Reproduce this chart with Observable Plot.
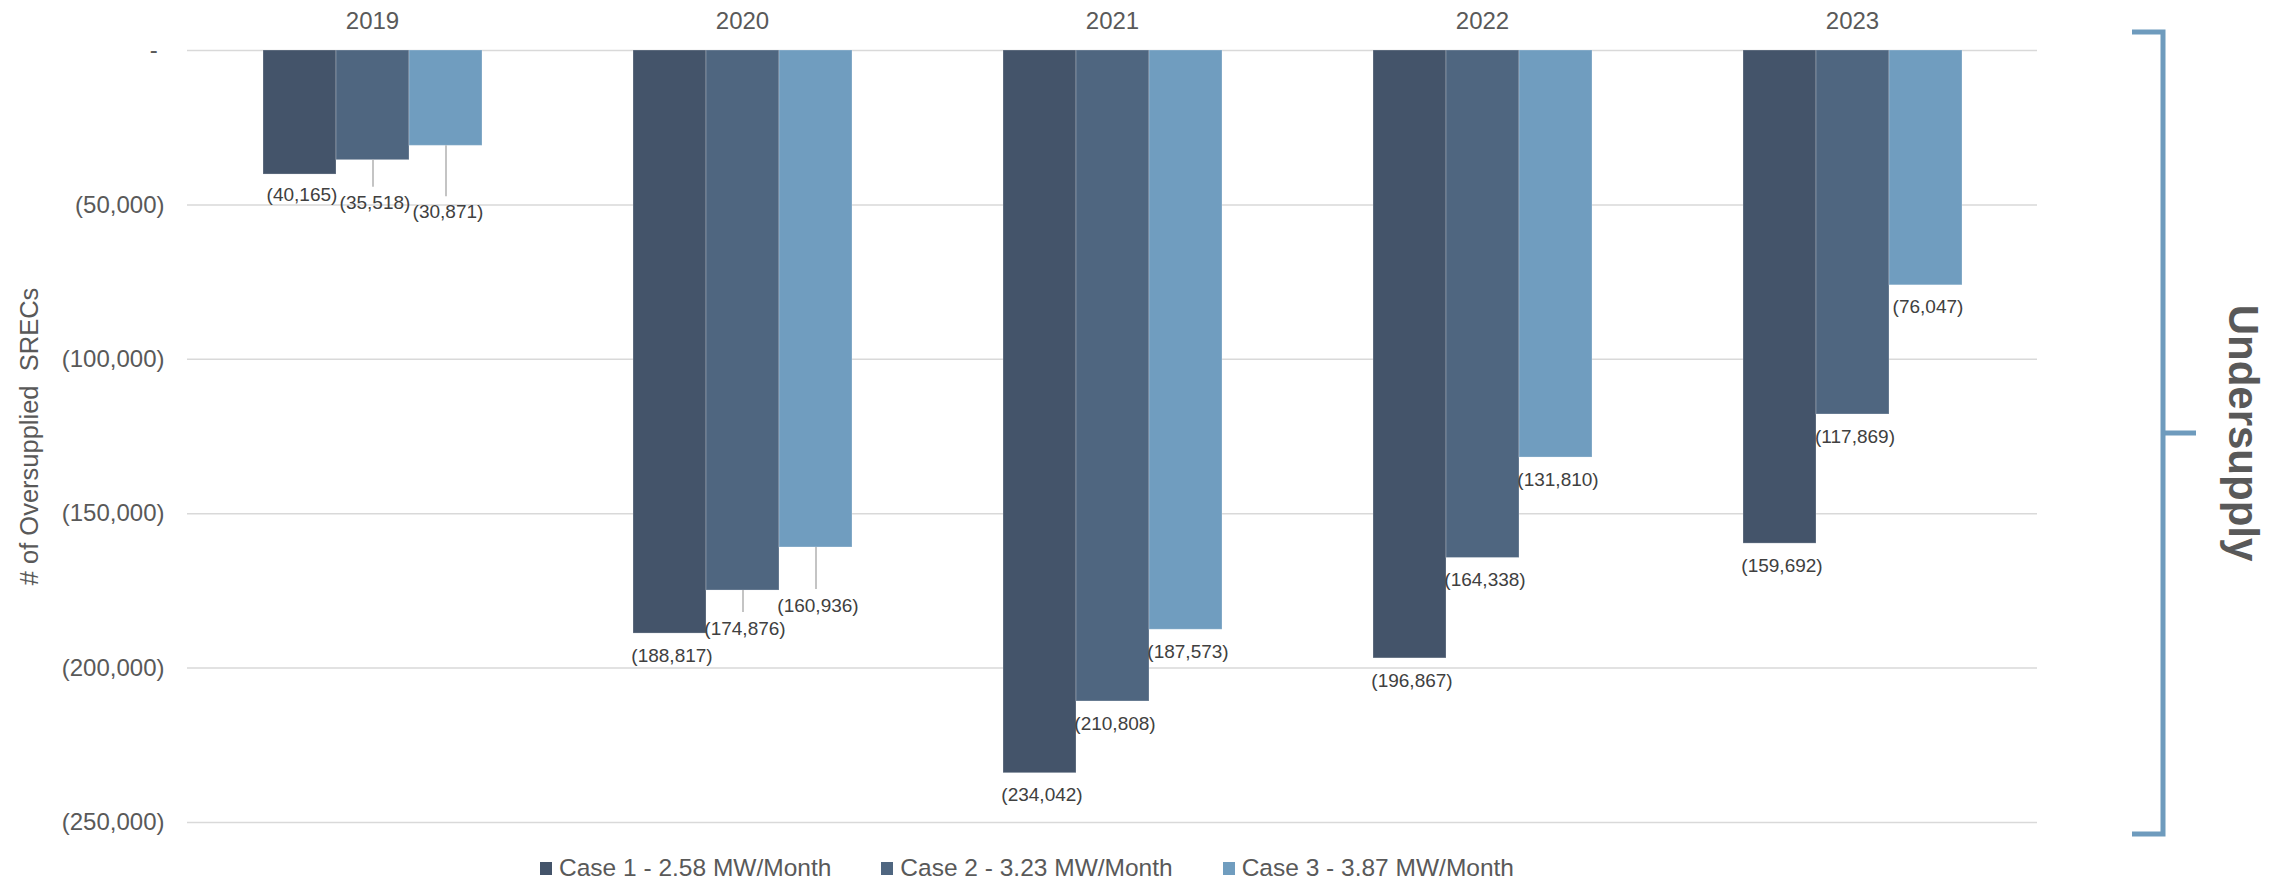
<!DOCTYPE html>
<html><head><meta charset="utf-8">
<script src="https://cdn.jsdelivr.net/npm/d3@7"></script>
<script src="https://cdn.jsdelivr.net/npm/@observablehq/plot@0.6"></script>
<style>
html,body{margin:0;padding:0;background:#fff;}
#chart svg{display:block;}
.legend{display:flex;align-items:center;height:34px;padding-top:6px;padding-left:540px;font:24.5px "Liberation Sans",Arial,sans-serif;color:#595959;}
.legend .item{display:flex;align-items:center;margin-right:50px;}
.legend .sw{width:12px;height:13px;margin-right:7px;}
</style></head><body><div id="chart"></div><div class="legend" id="legend"></div><script>
// ---- data ----
const years = ["2019", "2020", "2021", "2022", "2023"];
const cases = ["Case 1 - 2.58 MW/Month", "Case 2 - 3.23 MW/Month", "Case 3 - 3.87 MW/Month"];
const case1 = [-40165, -188817, -234042, -196867, -159692];
const case2 = [-35518, -174876, -210808, -164338, -117869];
const case3 = [-30871, -160936, -187573, -131810, -76047];
const yTicks = [0, -50000, -100000, -150000, -200000, -250000];
const yTitle = "# of Oversupplied\u00a0 SRECs";
const sideNote = "Undersupply";

// ---- style / layout ----
const colors = ["#44546A", "#4F6680", "#709DBF"];
const FONT = '"Liberation Sans", Arial, sans-serif';
const W = 2290, H = 845, MT = 50, MB = 23, ML = 187, MR = 253;
const defaultDrop = [22, 22, 22];
const labelDrop = {"2019": [20, 43, 66], "2020": [22, 38, 58]};   // px below bar end (label centre)
const leaderLen = {"2019": [0, 27, 51], "2020": [0, 22, 42]};     // px leader line length

const unitsPerPx = 250000 / (H - MT - MB);
const series = [case1, case2, case3];
const rows = [];
years.forEach((yr, i) => {
  series.forEach((s, j) => {
    const drop = (labelDrop[yr] || defaultDrop)[j];
    const lead = (leaderLen[yr] || [0, 0, 0])[j];
    rows.push({year: yr, kase: cases[j], value: s[i],
      labelY: s[i] - drop * unitsPerPx, leadEnd: s[i] - lead * unitsPerPx, hasLead: lead > 0});
  });
});
const num = d3.format(",");
const fmtTick = d => d === 0 ? "-\u00a0" : "(" + num(-d) + ")";
const fmtLabel = d => "(" + num(-d) + ")";

const chart = Plot.plot({
  width: W, height: H, marginTop: MT, marginBottom: MB, marginLeft: ML, marginRight: MR,
  style: {fontFamily: FONT, fontSize: "24px", color: "#595959", background: "white", overflow: "visible"},
  fx: {domain: years, padding: 0},
  x: {domain: cases, paddingInner: 0, paddingOuter: 1.023, axis: null},
  y: {domain: [-250000, 0]},
  color: {domain: cases, range: colors},
  marks: [
    Plot.gridY(yTicks, {stroke: "#D9D9D9", strokeOpacity: 1, strokeWidth: 1.5}),
    Plot.axisY(yTicks, {tickSize: 0, tickPadding: 23, tickFormat: fmtTick, fontSize: 24, fill: "#595959", label: null}),
    Plot.axisY([], {tickSize: 0, fontSize: 25.5, fill: "#595959",
      label: yTitle, labelAnchor: "center", labelOffset: 168, labelArrow: "none"}),
    Plot.axisFx({anchor: "top", tickSize: 0, tickPadding: 22, fontSize: 24, fill: "#595959", label: null}),
    Plot.barY(rows, {fx: "year", x: "kase", y1: 0, y2: "value", fill: "kase", stroke: "#ffffff", strokeOpacity: 0.25, strokeWidth: 1}),
    Plot.ruleX(rows.filter(d => d.hasLead), {fx: "year", x: "kase", y1: "value", y2: "leadEnd", stroke: "#B0B0B0", strokeWidth: 1.5}),
    Plot.text(rows, {fx: "year", x: "kase", y: "labelY", text: d => fmtLabel(d.value), fontSize: 19, fill: "#404040", dx: 2, lineAnchor: "middle"})
  ]
});
document.getElementById("chart").appendChild(chart);

// bracket annotation on the right, tied to the y scale
const ys = chart.scale("y");
const bTop = ys.apply(0) - 18, bBot = ys.apply(-250000) + 12, bMid = (bTop + bBot) / 2;
const bx = W - 127;
const svg = d3.select(chart);
svg.append("path")
  .attr("d", `M${bx - 31},${bTop}H${bx}V${bBot}H${bx - 31}M${bx},${bMid}H${bx + 33}`)
  .attr("fill", "none").attr("stroke", "#6E9BBD").attr("stroke-width", 5);
svg.append("text")
  .attr("transform", `translate(${bx + 66},${bMid}) rotate(90)`)
  .attr("text-anchor", "middle").attr("font-weight", "bold").attr("font-size", 42)
  .attr("font-family", FONT).attr("fill", "#595959").text(sideNote);

// legend
const legend = d3.select("#legend");
cases.forEach((c, i) => {
  const it = legend.append("div").attr("class", "item");
  it.append("div").attr("class", "sw").style("background", colors[i]);
  it.append("span").text(c);
});
</script></body></html>
